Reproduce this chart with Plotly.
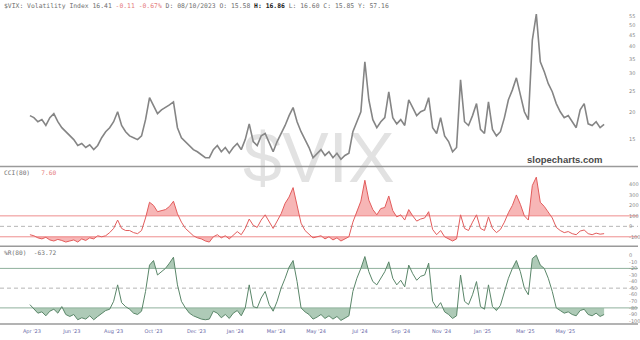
import plotly.graph_objects as go

# ---------------- data ----------------
vix_close = [19.3, 18.9, 18.1, 18.5, 17.4, 18.9, 19.7, 18.1, 17.0, 16.3,
             15.6, 15.0, 14.1, 14.4, 13.8, 14.2, 13.5, 14.1, 15.3, 16.3,
             17.0, 18.1, 20.1, 17.4, 16.3, 15.6, 15.3, 15.0, 15.6, 18.5,
             23.3, 21.4, 19.7, 20.5, 21.0, 21.6, 22.3, 17.0, 15.3, 14.7,
             14.1, 13.5, 13.2, 12.8, 12.4, 12.4, 13.5, 14.1, 13.2, 13.8,
             13.0, 13.8, 14.4, 13.5, 15.0, 17.7, 14.7, 14.1, 15.6, 16.0,
             14.4, 13.2, 14.7, 16.0, 17.4, 19.3, 21.0, 18.1, 16.3, 15.0,
             13.8, 12.4, 13.0, 13.5, 12.7, 13.2, 12.4, 13.0, 12.2, 12.7,
             13.0, 16.3, 18.1, 20.1, 34.0, 22.8, 18.5, 17.0, 18.1, 18.9,
             24.8, 18.9, 17.7, 18.5, 17.4, 22.8, 21.0, 19.3, 20.1, 20.5,
             23.3, 17.0, 16.0, 18.9, 15.6, 14.7, 13.2, 13.8, 28.1, 18.1,
             17.4, 19.3, 21.9, 16.7, 16.0, 22.3, 16.7, 15.6, 16.3, 18.9,
             22.8, 25.3, 28.7, 24.3, 20.1, 18.5, 42.7, 56.1, 34.0, 30.6,
             27.0, 24.8, 21.9, 20.1, 18.9, 19.3, 18.1, 17.0, 20.5, 21.9,
             17.7, 17.4, 18.1, 17.0, 17.6]

cci80 = [-80, -90, -110, -120, -105, -130, -140, -125, -135, -150,
         -140, -130, -150, -120, -135, -110, -120, -90, -100, -90,
         -60, -20, 60, -20, -40, -40, -60, -70, -40, 80,
         230, 200, 140, 150, 160, 190, 240, 120, 40, -20,
         -60, -90, -110, -120, -140, -150, -100, -80, -110, -90,
         -120, -80, -50, -80, -20, 70, 10, -10, 60, 110,
         40, -20, 50, 120, 220, 280, 370, 200, 30, -40,
         -80, -110, -100, -90, -120, -100, -130, -110, -140, -120,
         -100, 40, 150, 240, 440, 250, 160, 110, 170, 180,
         290, 150, 90, 110, 60, 160, 100, 50, 70, 80,
         140, -30, -80, -40, -100, -120, -140, -120, 110, -20,
         -40, 40, 110, -20, -40, 90, -20, -60, -30, 40,
         130, 200, 300, 210, 100, 60, 390, 470, 230, 190,
         130, 80, -10, -40, -60, -50, -70, -80, -45, -35,
         -70, -80, -65, -75, -70]

wr80 = [-75, -82, -88, -86, -92, -85, -82, -88, -78, -90,
        -93, -90, -98, -95, -97, -92, -98, -93, -88, -84,
        -82, -70, -45, -72, -78, -82, -88, -90, -85, -55,
        -15, -8, -30, -25, -20, -12, -3, -45, -70, -80,
        -88, -92, -95, -97, -98, -97, -85, -88, -95, -90,
        -96, -88, -84, -92, -80, -45, -78, -80, -65, -55,
        -75, -85, -70, -50, -35, -18, -8, -40, -80, -86,
        -90, -97, -94, -90, -96, -92, -97, -93, -99, -95,
        -92, -55, -35, -20, -2, -25, -40, -45, -35, -25,
        -10, -35, -45, -38, -48, -15, -28, -38, -32, -30,
        -12, -70, -80, -72, -86, -90, -96, -92, -30, -70,
        -75, -60, -40, -78, -82, -45, -78, -84, -76, -55,
        -35, -20, -8, -25, -50, -60, -5, 0, -15, -20,
        -35, -55, -80, -84, -88, -86, -90, -92, -84, -82,
        -90, -92, -88, -93, -90]

tick_labels = ["Apr '23", "Jun '23", "Aug '23", "Oct '23", "Dec '23", "Jan '24",
               "Mar '24", "May '24", "Jul '24", "Sep '24", "Nov '24", "Jan '25",
               "Mar '25", "May '25"]
tick_index = [0.5, 10.5, 21, 31, 41.75, 51.5, 61.75, 71.75, 82.75, 93, 103.25,
              113.5, 124.25, 134.25]

vix_ticks = [15, 20, 25, 30, 35, 40, 45, 50, 55]
cci_ticks = [400, 300, 200, 100, 0, -100]
wr_ticks = [0, -10, -20, -30, -40, -50, -60, -70, -80, -90, -100]

idx = list(range(len(vix_close)))

# ---------------- helpers ----------------
W, H = 640, 340


def py(px):
    return 1 - px / H


def clip_poly(xs, ys, thr, above=True):
    ox, oy = [], []
    for i in range(len(ys)):
        if i > 0:
            y0, y1 = ys[i - 1], ys[i]
            if (y0 - thr) * (y1 - thr) < 0:
                t = (thr - y0) / (y1 - y0)
                ox.append(xs[i - 1] + t * (xs[i] - xs[i - 1]))
                oy.append(thr)
        ox.append(xs[i])
        oy.append(max(ys[i], thr) if above else min(ys[i], thr))
    ox += [xs[-1], xs[0]]
    oy += [thr, thr]
    return ox, oy


fig = go.Figure()

# main panel
fig.add_trace(go.Scatter(x=idx, y=vix_close, mode="lines",
                         line=dict(color="#858585", width=1.6),
                         xaxis="x", yaxis="y", hoverinfo="skip"))

# CCI fills + line
cci_fill = "rgba(240,110,110,0.5)"
for thr, up in [(100, True), (-100, False)]:
    fx, fy = clip_poly(idx, cci80, thr, up)
    fig.add_trace(go.Scatter(x=fx, y=fy, mode="lines", fill="toself",
                             fillcolor=cci_fill, line=dict(width=0),
                             xaxis="x2", yaxis="y2", hoverinfo="skip"))
fig.add_trace(go.Scatter(x=idx, y=cci80, mode="lines",
                         line=dict(color="#e25c5c", width=1),
                         xaxis="x2", yaxis="y2", hoverinfo="skip"))

# %R fills + line
wr_fill = "rgba(140,180,152,0.7)"
for thr, up in [(-20, True), (-80, False)]:
    fx, fy = clip_poly(idx, wr80, thr, up)
    fig.add_trace(go.Scatter(x=fx, y=fy, mode="lines", fill="toself",
                             fillcolor=wr_fill, line=dict(width=0),
                             xaxis="x3", yaxis="y3", hoverinfo="skip"))
fig.add_trace(go.Scatter(x=idx, y=wr80, mode="lines",
                         line=dict(color="#5a8669", width=1),
                         xaxis="x3", yaxis="y3", hoverinfo="skip"))

xdom = [0, 607 / W]
xrange = [-7.5, 144.25]
tickfont = dict(family="DejaVu Sans", size=5, color="#888888")

common_x = dict(domain=xdom, range=xrange, showgrid=False, zeroline=False,
                showline=False, fixedrange=True)
common_y = dict(side="right", showgrid=False, zeroline=False, showline=False,
                ticks="outside", ticklen=22, tickcolor="rgba(0,0,0,0)",
                tickfont=tickfont, fixedrange=True)

fig.update_layout(
    width=W, height=H,
    margin=dict(l=0, r=0, t=0, b=0),
    paper_bgcolor="white", plot_bgcolor="white",
    showlegend=False,
    xaxis=dict(**common_x, anchor="y", showticklabels=False),
    yaxis=dict(**common_y, anchor="x", type="log",
               domain=[py(166), 1], range=[1.0578, 1.8133],
               tickvals=vix_ticks, ticktext=[str(v) for v in vix_ticks]),
    xaxis2=dict(**common_x, anchor="y2", showticklabels=False),
    yaxis2=dict(**common_y, anchor="x2", domain=[py(246), py(168)],
                range=[-181, 562], tickvals=cci_ticks,
                ticktext=[str(v) for v in cci_ticks]),
    xaxis3=dict(**common_x, anchor="y3", tickvals=tick_index, ticktext=tick_labels,
                ticks="outside", ticklen=3, tickcolor="rgba(0,0,0,0)",
                tickfont=dict(family="DejaVu Sans", size=5, color="#6a6aa8")),
    yaxis3=dict(**common_y, anchor="x3", domain=[py(324), py(248)],
                range=[-103, 12.1], tickvals=wr_ticks,
                ticktext=[str(v) for v in wr_ticks]),
)

shapes = []
# panel separators
for pxl in [167, 247, 325]:
    shapes.append(dict(type="line", xref="paper", yref="paper", x0=0, x1=1,
                       y0=py(pxl), y1=py(pxl),
                       line=dict(color="#9a9a9a", width=1.5), layer="above"))
# CCI reference lines
for v in [100, -100]:
    shapes.append(dict(type="line", xref="paper", yref="y2", x0=0, x1=1, y0=v, y1=v,
                       line=dict(color="#ee8e8e", width=1), layer="below"))
shapes.append(dict(type="line", xref="paper", yref="y2", x0=0, x1=1, y0=0, y1=0,
                   line=dict(color="#b5b5b5", width=1, dash="4px,3px"), layer="below"))
# %R reference lines
for v in [-20, -80]:
    shapes.append(dict(type="line", xref="paper", yref="y3", x0=0, x1=1, y0=v, y1=v,
                       line=dict(color="#8fb09c", width=1), layer="below"))
shapes.append(dict(type="line", xref="paper", yref="y3", x0=0, x1=1, y0=-50, y1=-50,
                   line=dict(color="#b5b5b5", width=1, dash="4px,3px"), layer="below"))
fig.update_layout(shapes=shapes)

mono = "DejaVu Sans Mono"
g = "#707070"
fs = 6.4
header = (f"<span style='color:{g}'>$VIX: Volatility Index 16.41 </span>"
          "<span style='color:#e57b7b'>-0.11 -0.67%</span>"
          f"<span style='color:{g}'> D: 08/10/2023 O: 15.58 </span>"
          "<b><span style='color:#222'>H: 16.86</span></b>"
          f"<span style='color:{g}'> L: 16.60 C: 15.85 Y: 57.16</span>")

annotations = [
    dict(text=header, x=2 / W, y=py(6), xref="paper", yref="paper",
         xanchor="left", yanchor="middle", showarrow=False,
         font=dict(family=mono, size=fs, color=g)),
    dict(text=f"<span style='color:{g}'>CCI(80)\u00a0\u00a0\u00a0</span>"
              "<span style='color:#e57b7b'>7.60</span>",
         x=2 / W, y=py(173), xref="paper", yref="paper", xanchor="left",
         yanchor="middle", showarrow=False, font=dict(family=mono, size=6.2, color=g)),
    dict(text=f"<span style='color:{g}'>%R(80)\u00a0\u00a0</span>"
              f"<span style='color:{g}'>-63.72</span>",
         x=2 / W, y=py(253), xref="paper", yref="paper", xanchor="left",
         yanchor="middle", showarrow=False, font=dict(family=mono, size=6.2, color=g)),
    dict(text="$VIX", x=320 / W, y=py(158), xref="paper", yref="paper",
         xanchor="center", yanchor="middle", showarrow=False,
         font=dict(family="Liberation Sans", size=70, color="rgba(150,150,150,0.28)")),
    dict(text="<b>slopecharts.com</b>", x=607 / W, y=py(160), xref="paper",
         yref="paper", xanchor="right", yanchor="middle", showarrow=False,
         font=dict(family="Liberation Sans", size=9.5, color="#4a4a4a")),
]
fig.update_layout(annotations=annotations)

fig.write_html("out.html", config={"displayModeBar": False})
